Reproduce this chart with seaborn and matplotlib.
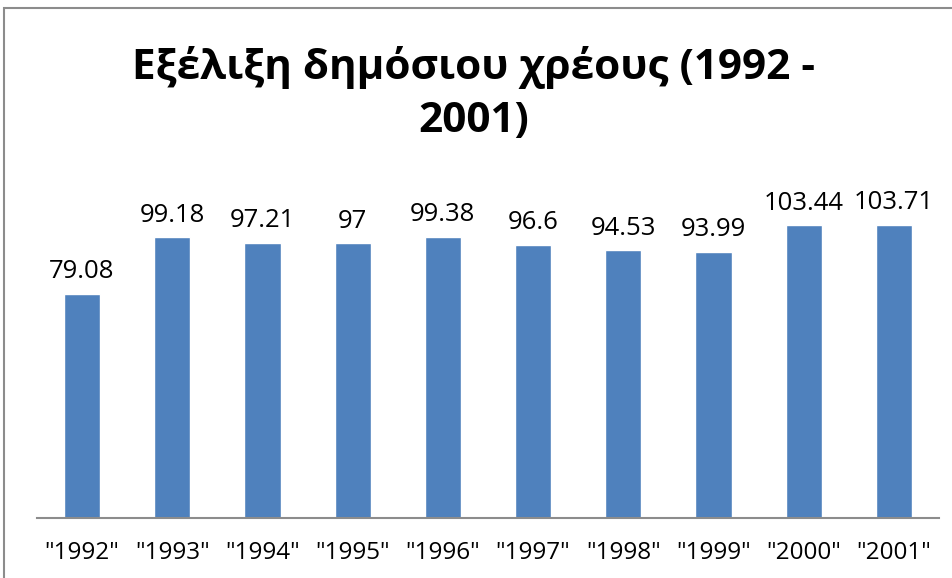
import matplotlib
matplotlib.use("Agg")
import matplotlib.pyplot as plt
import seaborn as sns
from matplotlib.patches import Rectangle

# data
years = ['"1992"', '"1993"', '"1994"', '"1995"', '"1996"',
         '"1997"', '"1998"', '"1999"', '"2000"', '"2001"']
debt = [79.08, 99.18, 97.21, 97, 99.38, 96.6, 94.53, 93.99, 103.44, 103.71]

W, H = 953, 578
sns.set_theme(style="white")
plt.rcParams['font.family'] = ['Open Sans', 'DejaVu Sans']

fig = plt.figure(figsize=(W / 100, H / 100), dpi=100)
ax = fig.add_axes([37 / W, (H - 517.5) / H, (939 - 37) / W, (517.5 - 178.5) / H])

sns.barplot(x=years, y=debt, color="#4F81BD", width=0.4, saturation=1, ax=ax)
ax.set_ylim(0, 120)
ax.set_xlim(-0.5, len(years) - 0.5)

ax.bar_label(ax.containers[0], labels=[f"{v:g}" for v in debt],
             padding=7, fontsize=18.5, color="black")

ax.set_yticks([])
ax.set_xlabel("")
ax.set_ylabel("")
for s in ["top", "left", "right"]:
    ax.spines[s].set_visible(False)
ax.spines["bottom"].set_color("#8c8c8c")
ax.spines["bottom"].set_linewidth(1.5)
ax.tick_params(axis="x", length=0, pad=17, labelsize=17.5, labelcolor="black")

fig.text(474 / W, 1 - 94 / H, "Εξέλιξη δημόσιου χρέους (1992 -\n2001)",
         ha="center", va="center", fontsize=30.4, fontweight="bold",
         linespacing=1.4, color="black")

# outer chart border (cropped on the right and bottom)
fig.patches.append(Rectangle((4 / W, -0.1), 1.2, 1 - 8 / H + 0.1,
                             transform=fig.transFigure, fill=False,
                             edgecolor="#8c8c8c", linewidth=1.5))

fig.savefig("out.png", dpi=100, facecolor="white")
